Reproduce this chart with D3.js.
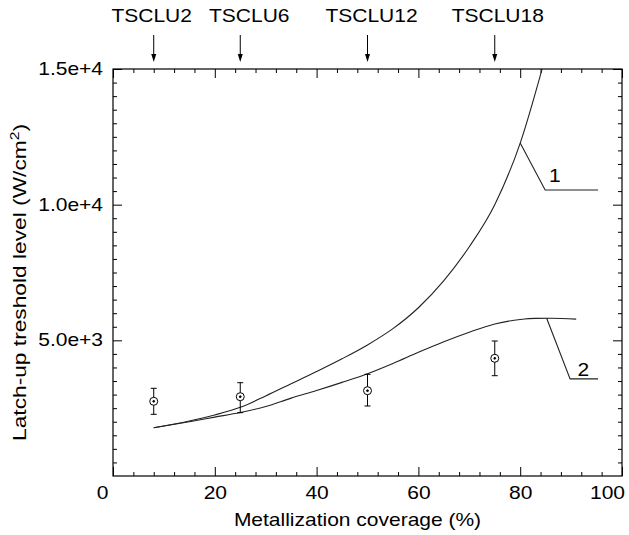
<!DOCTYPE html>
<html>
<head>
<meta charset="utf-8">
<script src="https://cdn.jsdelivr.net/npm/d3@7"></script>
<style>
  body { margin: 0; background: #fff; }
  svg { display: block; font-family: "Liberation Sans", Arial, sans-serif; }
  .domain { display: none; }
</style>
</head>
<body>
<div id="chart"></div>
<script>
// model curves: [coverage %, W/cm2]
const curve1 = [[8, 1780], [15, 2030], [20, 2250], [25, 2530], [30, 2950], [35, 3400],
  [40, 3850], [45, 4320], [50, 4830], [55, 5430], [60, 6200], [65, 7200], [70, 8450],
  [75, 10000], [80, 12270], [84.3, 15000]];
const curve2 = [[8, 1780], [15, 2000], [20, 2170], [25, 2340], [30, 2560], [35, 2870],
  [40, 3150], [45, 3450], [50, 3770], [55, 4150], [60, 4560], [65, 4950], [70, 5300],
  [75, 5600], [80, 5770], [83, 5810], [86, 5812], [91, 5780]];

// measured points with error bars
const coverage = [8, 25, 50, 75];
const level = [2753, 2923, 3144, 4338];
const levelLow = [2274, 2333, 2580, 3697];
const levelHigh = [3232, 3439, 3747, 4976];
const samples = ["TSCLU2", "TSCLU6", "TSCLU12", "TSCLU18"];

const xTicks = [0, 20, 40, 60, 80, 100];
const yTicks = [5000, 10000, 15000];

const width = 629, height = 535;
const margin = { top: 69, right: 7, bottom: 59, left: 113 };

const svg = d3.select("#chart").append("svg")
  .attr("width", width)
  .attr("height", height);

const x = d3.scaleLinear().domain([0, 100]).range([margin.left, width - margin.right]);
const y = d3.scaleLinear().domain([0, 15000]).range([height - margin.bottom, margin.top]);

// the original font is a plain sans stretched sideways
const fontSize = 17.5;
const stretch = 1.2;

// put a horizontally stretched label at (px, py)
function label(px, py, txt, anchor, rotate, k) {
  const t = svg.append("text")
    .attr("transform", `translate(${px},${py})${rotate ? " rotate(-90)" : ""} scale(${k || stretch},1)`)
    .attr("text-anchor", anchor || "middle")
    .style("font-size", fontSize + "px");
  if (txt) t.text(txt);
  return t;
}

// minor + major ticks on all four sides, pointing inward
const xMinor = d3.range(0, 101, 4).filter(v => v % 20 !== 0);
const yMinor = d3.range(0, 15001, 500).filter(v => v % 5000 !== 0);

function addAxis(axis, tx, ty) {
  const g = svg.append("g").attr("transform", `translate(${tx},${ty})`).call(axis);
  g.selectAll("line").attr("stroke", "#000");
  return g;
}

addAxis(d3.axisBottom(x).tickValues(xMinor).tickSize(-4).tickFormat(""), 0, y(0));
addAxis(d3.axisTop(x).tickValues(xMinor).tickSize(-4).tickFormat(""), 0, y(15000));
addAxis(d3.axisTop(x).tickValues(xTicks).tickSize(-9).tickFormat(""), 0, y(15000));
addAxis(d3.axisLeft(y).tickValues(yMinor).tickSize(-4).tickFormat(""), x(0), 0);
addAxis(d3.axisRight(y).tickValues(yMinor).tickSize(-4).tickFormat(""), x(100), 0);
addAxis(d3.axisRight(y).tickValues(yTicks).tickSize(-9).tickFormat(""), x(100), 0);

const xAxis = addAxis(d3.axisBottom(x).tickValues(xTicks).tickSize(-9).tickPadding(11), 0, y(0));
xAxis.selectAll("text")
  .attr("fill", "#000")
  .style("font-size", fontSize + "px")
  .attr("x", d => (d === 0 ? -11 : d === 100 ? -15 : 0) / stretch)
  .attr("transform", `scale(${stretch},1)`);

const yAxis = addAxis(d3.axisLeft(y).tickValues(yTicks).tickSize(-9)
  .tickFormat(d => d.toExponential(1)), x(0), 0);
yAxis.selectAll("text")
  .attr("fill", "#000")
  .style("font-size", fontSize + "px")
  .attr("x", -10 / stretch)
  .attr("transform", `scale(${stretch},1)`);

// frame
svg.append("rect")
  .attr("x", x(0)).attr("y", y(15000))
  .attr("width", x(100) - x(0)).attr("height", y(0) - y(15000))
  .attr("fill", "none").attr("stroke", "#000").attr("stroke-width", 1.2);

// axis titles
label((x(0) + x(100)) / 2 - 10, 526, "Metallization coverage (%)");

const yTitle = label(26, (y(0) + y(15000)) / 2 + 10, null, "middle", true, 1.3);
yTitle.append("tspan").text("Latch-up treshold level (W/cm");
yTitle.append("tspan").attr("dy", -7).style("font-size", "12px").text("2");
yTitle.append("tspan").attr("dy", 7).text(")");

// curves
const line = d3.line()
  .x(d => x(d[0]))
  .y(d => y(d[1]))
  .curve(d3.curveMonotoneX);

[curve1, curve2].forEach(c => {
  svg.append("path")
    .datum(c)
    .attr("d", line)
    .attr("fill", "none")
    .attr("stroke", "#222")
    .attr("stroke-width", 1.1);
});

// curve callouts
const callouts = [
  { label: "1", pts: [[80, 12270], [84.9, 10540], [95.3, 10540]], tx: 86.8, ty: 10830 },
  { label: "2", pts: [[85.2, 5812], [89.8, 3580], [95.3, 3580]], tx: 92.4, ty: 3690 }
];
callouts.forEach(c => {
  svg.append("path")
    .attr("d", d3.line().x(d => x(d[0])).y(d => y(d[1]))(c.pts))
    .attr("fill", "none")
    .attr("stroke", "#222")
    .attr("stroke-width", 1.1);
  label(x(c.tx), y(c.ty), c.label);
});

// error bars and markers
const pts = coverage.map((c, i) => ({ c, v: level[i], lo: levelLow[i], hi: levelHigh[i] }));
const eb = svg.append("g").attr("stroke", "#000").attr("fill", "none");
pts.forEach(p => {
  eb.append("line").attr("x1", x(p.c)).attr("x2", x(p.c)).attr("y1", y(p.lo)).attr("y2", y(p.hi));
  [p.lo, p.hi].forEach(v => {
    eb.append("line").attr("x1", x(p.c) - 3).attr("x2", x(p.c) + 3).attr("y1", y(v)).attr("y2", y(v));
  });
  eb.append("circle").attr("cx", x(p.c)).attr("cy", y(p.v)).attr("r", 4).attr("fill", "#fff");
  eb.append("circle").attr("cx", x(p.c)).attr("cy", y(p.v)).attr("r", 0.9).attr("fill", "#000");
});

// sample markers above the plot
const labelOffset = [-2, 9, 4, 3];
samples.forEach((s, i) => {
  const px = x(coverage[i]);
  label(px + labelOffset[i], 22, s);
  svg.append("line")
    .attr("x1", px).attr("x2", px).attr("y1", 35).attr("y2", 56)
    .attr("stroke", "#000");
  svg.append("path")
    .attr("d", `M${px - 2.5},54 L${px + 2.5},54 L${px},62 Z`)
    .attr("fill", "#000");
});
</script>
</body>
</html>
